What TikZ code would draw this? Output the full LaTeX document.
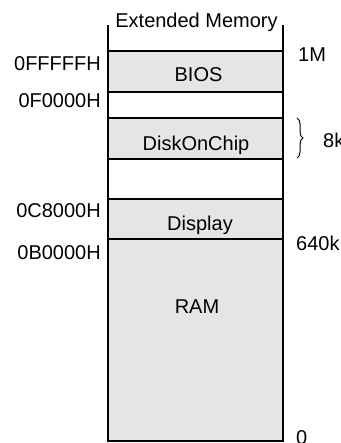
\documentclass[tikz,border=0pt]{standalone}
\usepackage{fontspec}
\setmainfont{Liberation Sans}
\usetikzlibrary{decorations.pathreplacing}
\begin{document}
\begin{tikzpicture}[x=1pt,y=-1pt,
  lbl/.style={inner sep=0pt,font=\fontsize{20}{24}\selectfont},
  region/.style={fill=black!10,draw=none},
  thinline/.style={line width=1.2pt},
  thickline/.style={line width=2.2pt}]
\useasboundingbox (0,0) rectangle (340,443);
% filled regions
\fill[black!10] (108,51) rectangle (283,92);
\fill[black!10] (108,118) rectangle (283,159);
\fill[black!10] (108,199) rectangle (283,239);
\fill[black!10] (108,239) rectangle (283,441);
% horizontal separators
\draw[thickline] (108,51) -- (283,51);
\draw[thinline] (108,92) -- (283,92);
\draw[thinline] (108,118) -- (283,118);
\draw[thinline] (108,159) -- (283,159);
\draw[thinline] (108,199) -- (283,199);
\draw[thinline] (108,239) -- (283,239);
\draw[thickline] (108,441) -- (283,441);
% verticals
\draw[thickline] (108,25) -- (108,442);
\draw[thickline] (283,25) -- (283,442);
% texts
\node[lbl,anchor=base] (ext) at (196.5,27.5) {Extended Memory};
\node[lbl,anchor=base] (bios) at (198.5,81.5) {BIOS};
\node[lbl,anchor=base] (doc) at (196,151) {DiskOnChip};
\node[lbl,anchor=base] (disp) at (200,230) {Display};
\node[lbl,anchor=base] (ram) at (197,313) {RAM};
\node[lbl,anchor=base east] (a1) at (101,71) {0FFFFFH};
\node[lbl,anchor=base east] (a2) at (101,108) {0F0000H};
\node[lbl,anchor=base east] (a3) at (101,217) {0C8000H};
\node[lbl,anchor=base east] (a4) at (101,259) {0B0000H};
\node[lbl,anchor=base west] (m1) at (298,62) {1M};
\node[lbl,anchor=base west] (k8) at (323,148) {8k};
\node[lbl,anchor=base west] (k640) at (296,250) {640k};
\node[lbl,anchor=base west] (z0) at (296,444.5) {0};
\coordinate (bt) at (297,118);
\coordinate (bb) at (297,158);
\draw[line width=1pt,decorate,decoration={brace,amplitude=6pt}] (bt) -- (bb);
\end{tikzpicture}
\end{document}
